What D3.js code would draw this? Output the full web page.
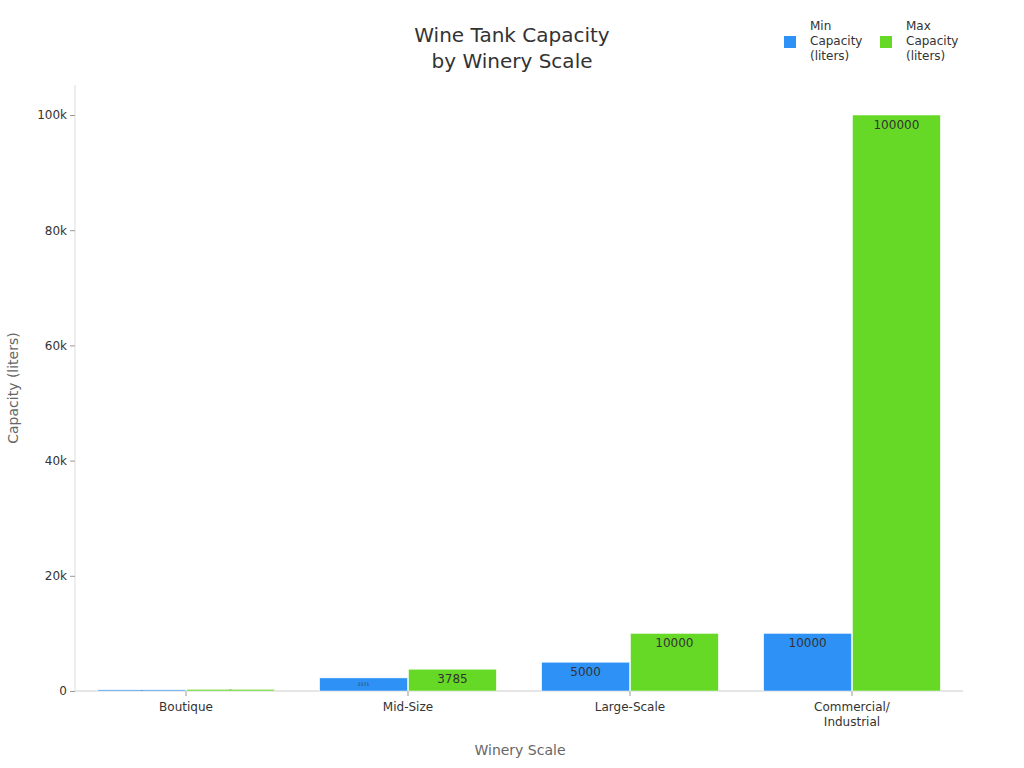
<!DOCTYPE html><html><head><meta charset="utf-8"><script src="https://cdn.jsdelivr.net/npm/d3@7"></script>
<style>body{margin:0;background:#fff;font-family:"DejaVu Sans",sans-serif}</style></head><body><svg id="c" width="1024" height="768"></svg><script>
const categories=["Boutique","Mid-Size","Large-Scale","Commercial/\nIndustrial"];
const minCap=[200,2271,5000,10000];
const maxCap=[300,3785,10000,100000];
const seriesNames=["Min Capacity (liters)","Max Capacity (liters)"];
const colors=["#2e91f5","#66d926"];
const yTicks=[0,20000,40000,60000,80000,100000];
const svg=d3.select("#c");
const L=75,R=963,T=85,B=691;
const x=d3.scaleBand().domain(categories).range([L,R]).paddingInner(0.2).paddingOuter(0.1);
const xs=d3.scaleBand().domain([0,1]).range([0,x.bandwidth()]);
const y=d3.scaleLinear().domain([0,100000*(B-T)/(B-115)]).range([B,T]);
svg.append("line").attr("x1",L).attr("x2",L).attr("y1",T).attr("y2",B).attr("stroke","#ddd");
svg.append("line").attr("x1",L).attr("x2",R).attr("y1",B).attr("y2",B).attr("stroke","#ccc");
const ya=svg.append("g").attr("transform",`translate(${L},0)`).call(d3.axisLeft(y).tickValues(yTicks).tickFormat(d=>d?d/1000+"k":"0").tickSize(5));
ya.select(".domain").remove();ya.selectAll("line").attr("stroke","#999");
ya.selectAll("text").attr("font-size",12).attr("fill","#333").attr("font-family","DejaVu Sans");
const xa=svg.append("g").attr("transform",`translate(0,${B})`).call(d3.axisBottom(x).tickSize(5).tickFormat(""));
xa.select(".domain").remove();xa.selectAll("line").attr("stroke","#999");
categories.forEach(c=>{const t=svg.append("text").attr("x",x(c)+x.bandwidth()/2).attr("y",B+20).attr("text-anchor","middle").attr("font-size",12).attr("fill","#333");
c.split("\n").forEach((s,i)=>t.append("tspan").attr("x",x(c)+x.bandwidth()/2).attr("dy",i?15:0).text(s));});
[minCap,maxCap].forEach((vals,si)=>{
 categories.forEach((c,i)=>{const v=vals[i],bx=x(c)+xs(si),bw=xs.bandwidth(),h=B-y(v);
  svg.append("rect").attr("x",bx+0.5).attr("y",y(v)).attr("width",bw-1).attr("height",h).attr("fill",colors[si]).attr("stroke","#fff").attr("stroke-width",0.5);
  const fs=h<18?Math.max(h*0.35,1):12;
  svg.append("text").attr("x",bx+bw/2).attr("y",y(v)+(h<18?h/2+fs*0.35:14)).attr("text-anchor","middle").attr("font-size",fs).attr("fill","#333").text(v);
 });
});
svg.append("text").attr("x",512).attr("y",42).attr("text-anchor","middle").attr("font-size",20).attr("fill","#333").text("Wine Tank Capacity");
svg.append("text").attr("x",512).attr("y",68).attr("text-anchor","middle").attr("font-size",20).attr("fill","#333").text("by Winery Scale");
svg.append("text").attr("x",520).attr("y",755).attr("text-anchor","middle").attr("font-size",14).attr("fill","#666").text("Winery Scale");
svg.append("text").attr("transform","translate(18,388) rotate(-90)").attr("text-anchor","middle").attr("font-size",14).attr("fill","#666").text("Capacity (liters)");
[784,880].forEach((lx,i)=>{svg.append("rect").attr("x",lx).attr("y",36).attr("width",12).attr("height",12).attr("fill",colors[i]);
 const w=seriesNames[i].split(" ");const t=svg.append("text").attr("font-size",12).attr("fill","#333");
 w.forEach((s,j)=>t.append("tspan").attr("x",lx+26).attr("y",30+j*15).text(s));});
</script></body></html>
